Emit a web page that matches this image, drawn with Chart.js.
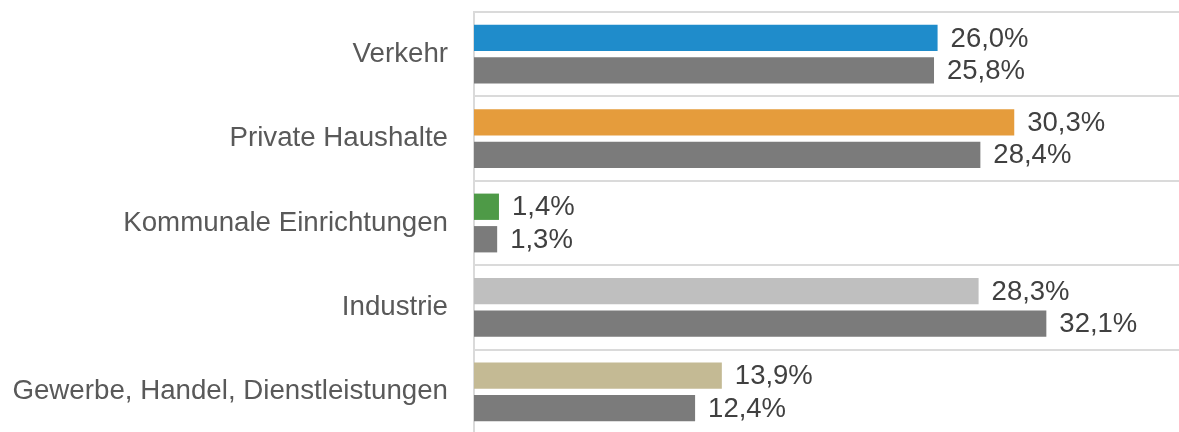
<!DOCTYPE html>
<html>
<head>
<meta charset="utf-8">
<script src="https://cdn.jsdelivr.net/npm/chart.js@4/dist/chart.umd.min.js"></script>
<style>
html,body{margin:0;padding:0;background:#fff;overflow:hidden;width:1179px;height:432px;}
canvas{display:block;}
</style>
</head>
<body>
<canvas id="c" width="1179" height="440" style="width:1179px;height:440px;"></canvas>
<script>
const categories = ["Verkehr", "Private Haushalte", "Kommunale Einrichtungen", "Industrie", "Gewerbe, Handel, Dienstleistungen"];
const seriesA = [26.0, 30.3, 1.4, 28.3, 13.9];
const seriesB = [25.8, 28.4, 1.3, 32.1, 12.4];
const colorsA = ["#1f8ccb", "#e59c3c", "#4e9a47", "#bfbfbf", "#c4ba94"];
const colorB = "#7b7b7b";

const FONT = '"Liberation Sans", Arial, sans-serif';
const AXSIZE = 27.7;
const LBLSIZE = 27.5;

const valueLabels = {
  id: 'valueLabels',
  afterDatasetsDraw(chart) {
    const ctx = chart.ctx;
    ctx.save();
    ctx.font = LBLSIZE + 'px ' + FONT;
    ctx.fillStyle = '#404040';
    ctx.textAlign = 'left';
    ctx.textBaseline = 'middle';
    chart.data.datasets.forEach((ds, di) => {
      const meta = chart.getDatasetMeta(di);
      meta.data.forEach((el, i) => {
        const v = ds.data[i];
        const txt = v.toFixed(1).replace('.', ',') + '%';
        ctx.fillText(txt, el.x + 13, el.y + 1);
      });
    });
    ctx.restore();
  }
};

new Chart(document.getElementById('c'), {
  type: 'bar',
  data: {
    labels: categories,
    datasets: [
      { data: seriesA, backgroundColor: colorsA, categoryPercentage: 0.77, barPercentage: 0.81 },
      { data: seriesB, backgroundColor: colorB, categoryPercentage: 0.77, barPercentage: 0.81 }
    ]
  },
  options: {
    indexAxis: 'y',
    responsive: false,
    animation: false,
    layout: { padding: { top: 12, bottom: 6, right: 0, left: 0 } },
    plugins: { legend: { display: false }, tooltip: { enabled: false } },
    scales: {
      x: { display: false, min: 0, max: 39.54 },
      y: {
        afterFit(scale) { scale.width = 474; scale.paddingTop = 0; scale.paddingBottom = 0; },
        grid: { display: true, offset: true, drawTicks: false, color: '#dadada', lineWidth: 2 },
        border: { display: true, color: '#dadada', width: 2 },
        ticks: { color: '#595959', font: { family: FONT, size: AXSIZE }, padding: 26 }
      }
    }
  },
  plugins: [valueLabels]
});
</script>
</body>
</html>
